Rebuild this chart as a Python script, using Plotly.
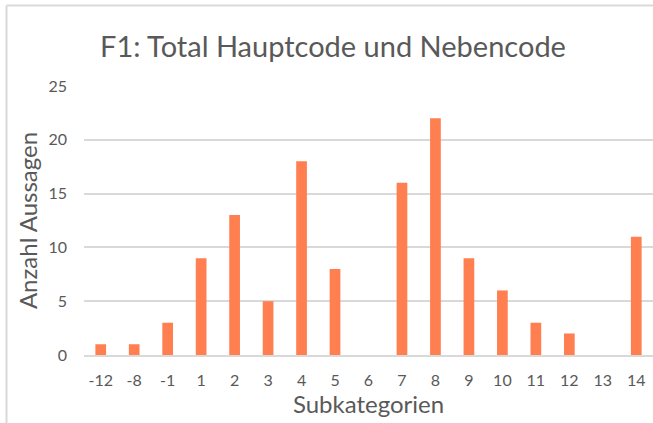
import plotly.graph_objects as go

categories = ["-12", "-8", "-1", "1", "2", "3", "4", "5", "6", "7", "8", "9", "10", "11", "12", "13", "14"]
values = [1, 1, 3, 9, 13, 5, 18, 8, 0, 16, 22, 9, 6, 3, 2, 0, 11]
y_ticks = [0, 5, 10, 15, 20, 25]

TEXT = "#595959"
GRID = "#D9D9D9"
FONT = "Lato"

fig = go.Figure(go.Bar(x=categories, y=values, marker=dict(color="#FF7F50", line=dict(width=0)),
                       hoverinfo="x+y"))

bx = (6.5 - 84) / 569
by = 1 + (86 - 5.5) / 269
fig.update_layout(
    width=653, height=423,
    margin=dict(l=84, r=0, t=86, b=68),
    paper_bgcolor="white", plot_bgcolor="white",
    bargap=0.68,
    font=dict(family=FONT, color=TEXT),
    title=dict(text="F1: Total Hauptcode und Nebencode", x=333/653, xanchor="center",
               y=1-47/423, yanchor="middle", font=dict(family=FONT, size=29, color=TEXT)),
    xaxis=dict(type="category", showgrid=False, showline=True, linecolor=GRID, linewidth=1.5,
               ticks="", tickfont=dict(size=16, color=TEXT), ticklabelstandoff=10,
               title=dict(text="Subkategorien", font=dict(size=24, color=TEXT), standoff=4),
               fixedrange=True),
    yaxis=dict(range=[0, 25], tickvals=y_ticks, showgrid=True, gridcolor=GRID, gridwidth=1.5,
               zeroline=False, ticks="", tickfont=dict(size=16, color=TEXT), ticklabelstandoff=16,
               title=dict(text="Anzahl Aussagen", font=dict(size=24, color=TEXT), standoff=4),
               fixedrange=True),
    showlegend=False,
    shapes=[
        dict(type="line", xref="paper", yref="paper", x0=bx, x1=bx, y0=-0.4, y1=by,
             line=dict(color=GRID, width=2), layer="below"),
        dict(type="line", xref="paper", yref="paper", x0=bx, x1=1.05, y0=by, y1=by,
             line=dict(color=GRID, width=2), layer="below"),
    ],
)

fig.write_html("out.html", config={"displayModeBar": False},
               post_script="document.body.style.margin='0';document.body.style.overflow='hidden';")
